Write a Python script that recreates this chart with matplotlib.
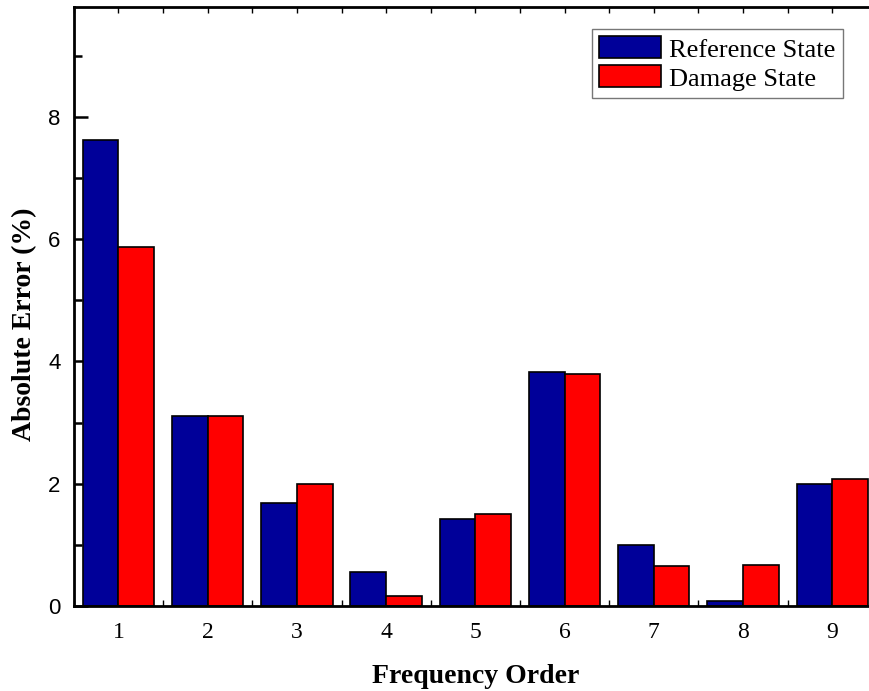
import matplotlib
matplotlib.use("Agg")
import matplotlib.pyplot as plt
import numpy as np
from matplotlib.ticker import MultipleLocator

orders = [1, 2, 3, 4, 5, 6, 7, 8, 9]
reference_state = [7.63, 3.10, 1.69, 0.56, 1.43, 3.83, 1.00, 0.08, 1.99]
damage_state = [5.87, 3.10, 2.00, 0.16, 1.51, 3.80, 0.66, 0.67, 2.08]
series_labels = ["Reference State", "Damage State"]

fig = plt.figure(figsize=(8.69, 6.91), dpi=100)
ax = fig.add_axes([0.085, 0.123, 0.924, 0.867])

x = np.array(orders, dtype=float)
w = 0.4
ax.bar(x - w / 2, reference_state, width=w, color="#000099", edgecolor="black",
       linewidth=1.2, label=series_labels[0])
ax.bar(x + w / 2, damage_state, width=w, color="#ff0000", edgecolor="black",
       linewidth=1.2, label=series_labels[1])

ax.set_xlim(0.5, 9.5)
ax.set_ylim(0, 9.8)
ax.set_xticks(orders)
ax.xaxis.set_minor_locator(MultipleLocator(0.5))
ax.yaxis.set_major_locator(MultipleLocator(2))
ax.yaxis.set_minor_locator(MultipleLocator(1))
ax.set_axisbelow(True)

for s in ax.spines.values():
    s.set_linewidth(2)

ax.tick_params(axis="y", which="major", direction="in", length=10, width=1.8,
               labelsize=16, pad=9.5)
ax.tick_params(axis="y", which="minor", direction="in", length=6, width=1.8)
ax.tick_params(axis="x", which="both", direction="in", top=True, length=4, width=1,
               pad=11.5)
for lbl in ax.get_yticklabels():
    lbl.set_fontfamily("Liberation Sans")
for lbl in ax.get_xticklabels():
    lbl.set_fontfamily("Liberation Serif")
    lbl.set_fontsize(17)

ax.set_xlabel("Frequency Order", fontfamily="Liberation Serif", fontweight="bold",
              fontsize=20, labelpad=15)
ax.set_ylabel("Absolute Error (%)", fontfamily="Liberation Serif", fontweight="bold",
              fontsize=20)
ax.yaxis.set_label_coords(-0.046, 0.47)

leg = ax.legend(loc="upper right", bbox_to_anchor=(0.9577, 0.963),
                prop={"family": "Liberation Serif", "size": 19},
                frameon=True, fancybox=False, edgecolor="#555555",
                handlelength=2.35, handleheight=0.9, handletextpad=0.3,
                borderpad=0.28, labelspacing=0.15, borderaxespad=0)
leg.get_frame().set_linewidth(1)

fig.savefig("out.png", dpi=100)
